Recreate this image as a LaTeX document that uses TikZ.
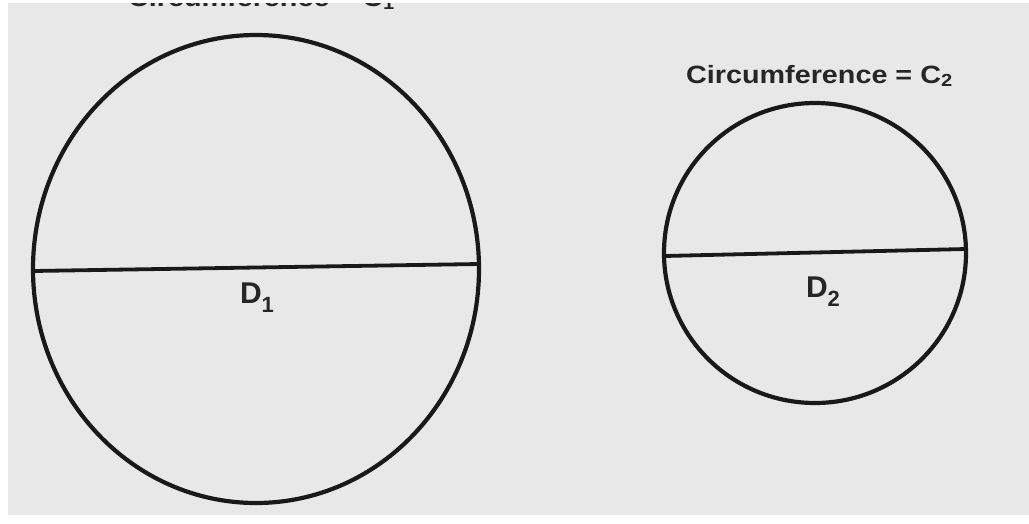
\documentclass[tikz,border=0pt]{standalone}
\usepackage{fontspec}
\setmainfont{Liberation Sans}
\begin{document}
\begin{tikzpicture}[x=1pt,y=-1pt,
  rim/.style={draw=black!90, line width=4.2pt},
  diam/.style={draw=black!90, line width=3.8pt},
  dlabel/.style={font=\bfseries\fontsize{30}{34}\selectfont, text=black!85, inner sep=0pt},
  circlabel/.style={font=\bfseries\fontsize{25}{29}\selectfont, text=black!85, inner sep=0pt, anchor=base west}]
\useasboundingbox (0,0) rectangle (1029,523);
\fill[white] (0,0) rectangle (1029,523);
\fill[black!9] (8,3) rectangle (1029,515);
% cut-off label of the large circle
\begin{scope}
\clip (8,3) rectangle (1029,523);
\node[circlabel] (c1) at (128,6) {\scalebox{1.15}[1]{Circumference = C\textsubscript{1}}};
\end{scope}
% large circle
\coordinate (bigc) at (256,269);
\draw[rim] (bigc) ellipse [x radius=223, y radius=234];
\coordinate (bl) at (33,271);
\coordinate (br) at (479,264);
\draw[diam] (bl) -- (br);
\node[dlabel] (d1) at (257,298) {D\raisebox{-9pt}{\fontsize{22}{26}\selectfont 1}};
% small circle
\coordinate (smc) at (815,253);
\draw[rim] (smc) ellipse [x radius=151, y radius=150];
\coordinate (sl) at (664,256);
\coordinate (sr) at (966,249);
\draw[diam] (sl) -- (sr);
\node[dlabel] (d2) at (823,292) {D\raisebox{-9pt}{\fontsize{22}{26}\selectfont 2}};
\node[circlabel] (c2) at (686,83) {\scalebox{1.15}[1]{Circumference = C\textsubscript{2}}};
\end{tikzpicture}
\end{document}
